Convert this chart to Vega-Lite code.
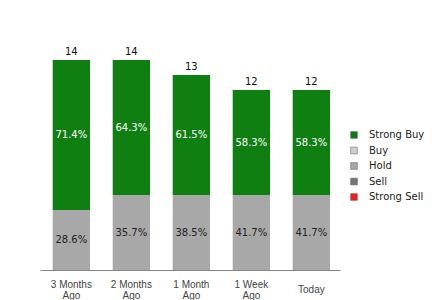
{
  "$schema": "https://vega.github.io/schema/vega-lite/v6.json",
  "width": 300,
  "height": 210,
  "autosize": {"type": "none"},
  "padding": {"left": 40, "top": 60, "right": 100, "bottom": 30},
  "background": "white",
  "config": {
    "view": {"stroke": null},
    "font": "DejaVu Sans"
  },
  "data": {
    "values": [
      {"period": "3 Months Ago", "rating": "Strong Buy", "count": 10, "pct": "71.4%"},
      {"period": "3 Months Ago", "rating": "Hold", "count": 4, "pct": "28.6%"},
      {"period": "2 Months Ago", "rating": "Strong Buy", "count": 9, "pct": "64.3%"},
      {"period": "2 Months Ago", "rating": "Hold", "count": 5, "pct": "35.7%"},
      {"period": "1 Month Ago", "rating": "Strong Buy", "count": 8, "pct": "61.5%"},
      {"period": "1 Month Ago", "rating": "Hold", "count": 5, "pct": "38.5%"},
      {"period": "1 Week Ago", "rating": "Strong Buy", "count": 7, "pct": "58.3%"},
      {"period": "1 Week Ago", "rating": "Hold", "count": 5, "pct": "41.7%"},
      {"period": "Today", "rating": "Strong Buy", "count": 7, "pct": "58.3%"},
      {"period": "Today", "rating": "Hold", "count": 5, "pct": "41.7%"}
    ]
  },
  "encoding": {
    "x": {
      "field": "period",
      "type": "nominal",
      "sort": ["3 Months Ago", "2 Months Ago", "1 Month Ago", "1 Week Ago", "Today"],
      "scale": {"paddingInner": 0.378, "paddingOuter": 0.189, "align": 0.56},
      "axis": {
        "title": null,
        "ticks": false,
        "domainColor": "#888888",
        "labelAngle": 0,
        "labelFont": "Liberation Sans",
        "labelFontSize": 10,
        "labelColor": "#444444",
        "labelLineHeight": 11,
        "labelBaseline": "middle",
        "labelPadding": {"condition": {"test": "datum.value == 'Today'", "value": 19.5}, "value": 14},
        "labelExpr": "datum.value == 'Today' ? 'Today' : [replace(datum.value, ' Ago', ''), 'Ago']"
      }
    }
  },
  "layer": [
    {
      "mark": {"type": "bar"},
      "encoding": {
        "y": {
          "field": "count",
          "type": "quantitative",
          "stack": "zero",
          "scale": {"domain": [0, 14], "nice": false},
          "axis": null
        },
        "color": {
          "field": "rating",
          "type": "nominal",
          "scale": {
            "domain": ["Strong Buy", "Buy", "Hold", "Sell", "Strong Sell"],
            "range": ["#0f7f12", "#cfcfcf", "#a8a8a8", "#767676", "#ff1a1a"]
          },
          "legend": {
            "title": null,
            "orient": "none",
            "legendX": 309,
            "legendY": 70,
            "symbolType": "square",
            "symbolSize": 45,
            "symbolStrokeColor": "#555555",
            "symbolStrokeWidth": 0.5,
            "labelFont": "DejaVu Sans",
            "labelFontSize": 10,
            "labelColor": "#222222",
            "labelOffset": 10,
            "rowPadding": 5.5
          }
        },
        "order": {"field": "rating", "sort": "ascending"}
      }
    },
    {
      "transform": [
        {"stack": "count", "groupby": ["period"], "sort": [{"field": "rating", "order": "ascending"}], "as": ["lo", "hi"]},
        {"calculate": "(datum.lo + datum.hi) / 2", "as": "mid"}
      ],
      "mark": {"type": "text", "fontSize": 10, "baseline": "middle"},
      "encoding": {
        "y": {"field": "mid", "type": "quantitative"},
        "text": {"field": "pct"},
        "color": {
          "condition": {"test": "datum.rating == 'Strong Buy'", "value": "#ffffff"},
          "value": "#222222"
        }
      }
    },
    {
      "transform": [
        {"aggregate": [{"op": "sum", "field": "count", "as": "total"}], "groupby": ["period"]}
      ],
      "mark": {"type": "text", "fontSize": 10, "baseline": "bottom", "dy": -3, "color": "#111111"},
      "encoding": {
        "y": {"field": "total", "type": "quantitative"},
        "text": {"field": "total"}
      }
    }
  ]
}
